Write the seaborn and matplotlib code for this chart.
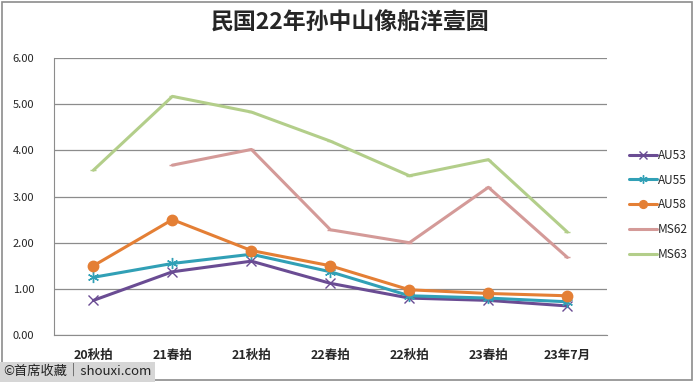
import matplotlib
matplotlib.use("Agg")
import matplotlib.pyplot as plt
import seaborn as sns
import pandas as pd
import numpy as np

periods = ["20秋拍", "21春拍", "21秋拍", "22春拍", "22秋拍", "23春拍", "23年7月"]
au53 = [0.75, 1.37, 1.60, 1.12, 0.80, 0.75, 0.63]
au55 = [1.25, 1.55, 1.75, 1.37, 0.85, 0.80, 0.72]
au58 = [1.50, 2.50, 1.83, 1.50, 0.98, 0.90, 0.85]
ms62 = [np.nan, 3.68, 4.02, 2.28, 2.00, 3.20, 1.68]
ms63 = [3.57, 5.17, 4.83, 4.20, 3.45, 3.80, 2.23]

series_names = ["AU53", "AU55", "AU58", "MS62", "MS63"]
colors = ["#6A4C93", "#31A0B6", "#E47F35", "#D49A98", "#B3CE8A"]
markers = ["x", (6, 2, 0), "o", "_", "_"]

rows = []
for name, vals in zip(series_names, [au53, au55, au58, ms62, ms63]):
    for p, v in zip(periods, vals):
        rows.append({"period": p, "value": v, "series": name})
df = pd.DataFrame(rows)

sns.set_style("white")
plt.rcParams["font.family"] = ["Noto Sans CJK SC", "DejaVu Sans"]

fig = plt.figure(figsize=(7, 3.82), dpi=100)
ax = fig.add_axes([0.077, 0.123, 0.79, 0.725])

sizes = {"AU53": 7, "AU55": 8, "AU58": 7.5, "MS62": 5, "MS63": 5}
for name, c, m in zip(series_names, colors, markers):
    sub = df[df["series"] == name].dropna()
    sns.lineplot(data=sub, x="period", y="value", ax=ax, color=c, lw=2.2,
                 marker=m, markersize=sizes[name], markeredgecolor=c,
                 markeredgewidth=1.0, label=name)

ax.set_xlim(-0.5, 6.5)
ax.set_ylim(0, 6)
ax.set_yticks(np.arange(0, 6.01, 1))
ax.set_yticklabels([f"{v:.2f}" for v in np.arange(0, 6.01, 1)], fontsize=8)
ax.set_xticks(range(len(periods)))
ax.set_xticklabels(periods, fontsize=9, fontweight="bold")
ax.yaxis.grid(True, color="#8c8c8c", lw=0.9)
ax.set_xlabel("")
ax.set_ylabel("")
for s in ["top", "right"]:
    ax.spines[s].set_visible(False)
ax.spines["left"].set_color("#8c8c8c")
ax.spines["bottom"].set_color("#8c8c8c")
ax.tick_params(axis="x", length=0, pad=10)
ax.tick_params(axis="y", length=0, pad=14)

ax.legend(loc="center left", bbox_to_anchor=(1.02, 0.47), frameon=False,
          fontsize=8.5, handlelength=2.4, labelspacing=1.0, handletextpad=0.1,
          markerscale=0.75)

fig.suptitle("民国22年孙中山像船洋壹圆", fontsize=16.5, fontweight="bold", y=0.97)

fig.patches.append(plt.Rectangle((0.003, 0.005), 0.986, 0.99, transform=fig.transFigure,
                                 fill=False, edgecolor="#8c8c8c", lw=1.2))
fig.text(0.004, 0.018, "©首席收藏｜shouxi.com", fontsize=9.5, color="#222222",
         bbox=dict(facecolor="#d6d6d6", edgecolor="none", pad=2.5))

fig.savefig("out.png", dpi=100)
